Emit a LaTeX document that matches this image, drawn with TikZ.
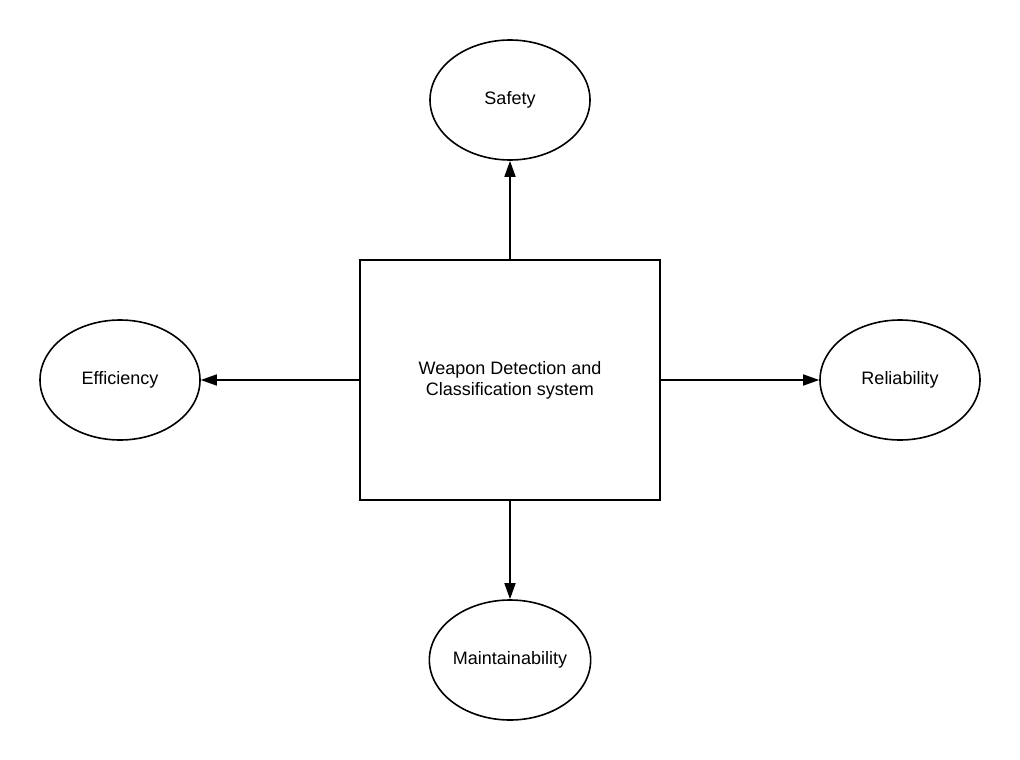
\documentclass[tikz,border=0pt]{standalone}
\usepackage{fontspec}
\setmainfont{Liberation Sans}
\usetikzlibrary{arrows.meta,shapes.geometric}
\begin{document}
\begin{tikzpicture}[x=1pt,y=-1pt,
  goal/.style={draw,line width=1.6pt,ellipse,minimum width=160pt,minimum height=120pt,inner sep=0pt,font=\fontsize{18}{21}\selectfont},
  sysbox/.style={draw,line width=1.6pt,rectangle,minimum width=300pt,minimum height=240pt,inner sep=0pt,align=center,font=\fontsize{18}{21}\selectfont},
  link/.style={line width=1.6pt,-{Triangle[length=16pt,width=11pt]}}]
\useasboundingbox (0,0) rectangle (1020,760);
\node[sysbox] (sys) at (510,380) {Weapon Detection and\\Classification system};
\node[goal] (safety) at (510,100) {Safety};
\node[goal] (eff) at (120,380) {Efficiency};
\node[goal] (rel) at (900,380) {Reliability};
\node[goal] (main) at (510,660) {Maintainability};
\draw[link] (sys) -- (safety);
\draw[link] (sys) -- (eff);
\draw[link] (sys) -- (rel);
\draw[link] (sys) -- (main);
\end{tikzpicture}
\end{document}
